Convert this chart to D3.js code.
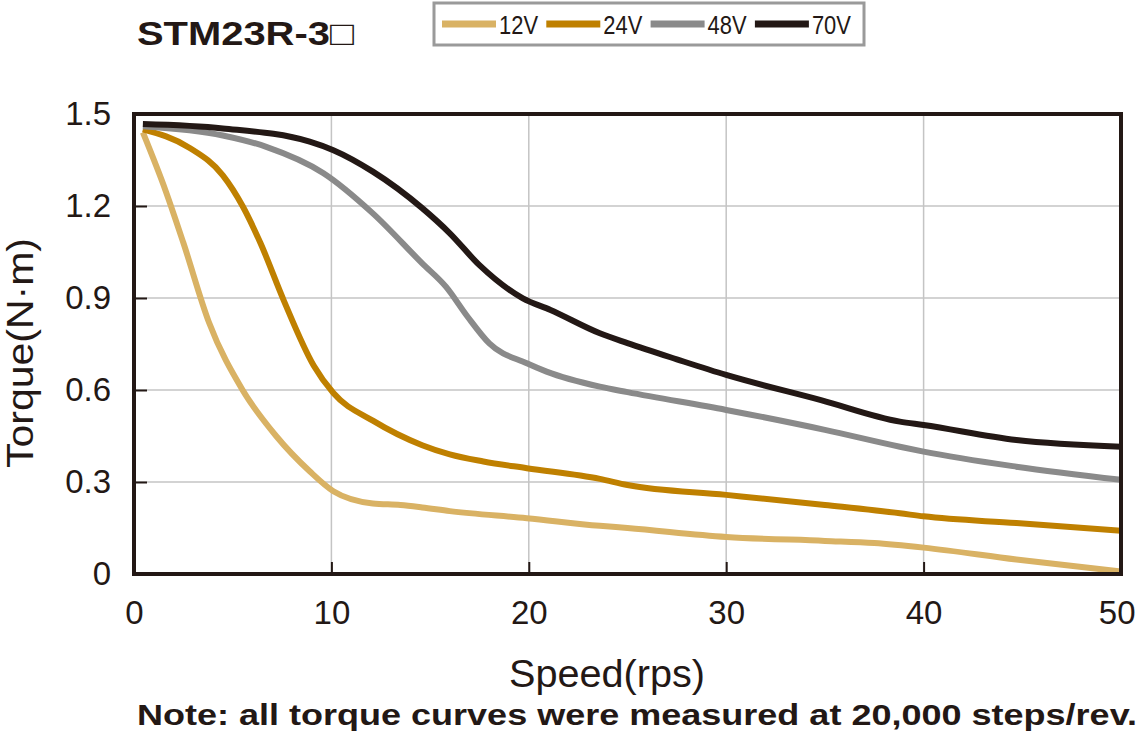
<!DOCTYPE html>
<html>
<head>
<meta charset="utf-8">
<script src="https://cdn.jsdelivr.net/npm/d3@7"></script>
<style>
  body { margin: 0; background: #fff; }
  text { font-family: "Liberation Sans", Arial, sans-serif; fill: #231815; }
</style>
</head>
<body>
<svg id="chart"></svg>
<script>
// speed (rps) / torque (N·m)
const series = ["12V", "24V", "48V", "70V"];
const colors = ["#d9b264", "#bf8000", "#8a8a8a", "#231815"];

const v12 = [[0.45,1.44],[1.6,1.25],[2.5,1.08],[3.8,0.82],[5.5,0.60],[7.2,0.45],[8.9,0.335],[10.1,0.27],
  [12.1,0.23],[13.5,0.225],[14.6,0.217],[16,0.205],[19.9,0.182],[23.6,0.157],[25,0.15],[30,0.121],
  [35,0.108],[37.5,0.101],[40,0.086],[44.7,0.047],[50,0.008]];
const v24 = [[0.45,1.45],[2.8,1.39],[4.5,1.30],[5.5,1.20],[6.4,1.08],[7.6,0.89],[9.1,0.68],[10.1,0.59],
  [12.1,0.50],[14.6,0.42],[16,0.39],[17.7,0.367],[19.9,0.345],[23.6,0.31],[25,0.29],[30,0.258],
  [35,0.225],[38.8,0.198],[40,0.188],[44.7,0.166],[50,0.141]];
const v48 = [[0.45,1.46],[4.5,1.43],[6.7,1.393],[9.6,1.307],[12.1,1.176],[14.6,1.013],[15.8,0.937],
  [16.9,0.839],[18,0.752],[19.9,0.687],[20.9,0.66],[23.6,0.611],[25,0.593],[30,0.535],[35,0.47],
  [38.8,0.415],[40,0.399],[44.7,0.35],[50,0.307]];
const v70 = [[0.45,1.467],[4.5,1.453],[8.9,1.41],[10.1,1.382],[12.1,1.312],[14.6,1.193],[16,1.111],
  [17.5,1.007],[19.7,0.899],[21.1,0.861],[23.6,0.785],[25,0.753],[27.5,0.70],[30,0.649],[34.8,0.567],
  [38.8,0.497],[40,0.486],[44.7,0.437],[50,0.415]];
const curves = [v12, v24, v48, v70];

const xTicks = [0, 10, 20, 30, 40, 50];
const yTicks = [0, 0.3, 0.6, 0.9, 1.2, 1.5];

const W = 1138, H = 734;
const plot = { left: 134, right: 1121, top: 114, bottom: 574 };

const svg = d3.select("#chart").attr("width", W).attr("height", H);

const x = d3.scaleLinear().domain([0, 50]).range([plot.left, plot.right]);
const y = d3.scaleLinear().domain([0, 1.5]).range([plot.bottom, plot.top]);

// grid
svg.append("g").selectAll("line")
  .data(xTicks.slice(1, -1))
  .join("line")
  .attr("x1", d => x(d)).attr("x2", d => x(d))
  .attr("y1", plot.top).attr("y2", plot.bottom)
  .attr("stroke", "#c4c4c4").attr("stroke-width", 1.5);

svg.append("g").selectAll("line")
  .data(yTicks.slice(1, -1))
  .join("line")
  .attr("x1", plot.left).attr("x2", plot.right)
  .attr("y1", d => y(d)).attr("y2", d => y(d))
  .attr("stroke", "#c4c4c4").attr("stroke-width", 1.5);

// axes with inward ticks
const xAxis = svg.append("g")
  .attr("transform", `translate(0,${plot.bottom})`)
  .call(d3.axisBottom(x).tickValues(xTicks).tickFormat(d3.format("d")).tickSize(-12).tickPadding(27));
const yAxis = svg.append("g")
  .attr("transform", `translate(${plot.left},0)`)
  .call(d3.axisLeft(y).tickValues(yTicks).tickFormat(d => d === 0 ? "0" : d3.format(".1f")(d)).tickSize(-13).tickPadding(23));

[xAxis, yAxis].forEach(g => {
  g.select(".domain").remove();
  g.selectAll(".tick line").attr("stroke", "#231815").attr("stroke-width", 2);
  g.selectAll(".tick text").attr("font-size", 33).attr("fill", "#231815");
});
xAxis.selectAll(".tick text").attr("dy", "0.71em");
xAxis.selectAll(".tick text").filter(d => d === 50).attr("text-anchor", "end").attr("dx", 14);

// curves
const line = d3.line().x(d => x(d[0])).y(d => y(d[1])).curve(d3.curveMonotoneX);
svg.append("g").selectAll("path")
  .data(curves)
  .join("path")
  .attr("d", line)
  .attr("fill", "none")
  .attr("stroke", (d, i) => colors[i])
  .attr("stroke-width", 6)
  .attr("stroke-linejoin", "round");

// frame
svg.append("rect")
  .attr("x", plot.left).attr("y", plot.top)
  .attr("width", plot.right - plot.left).attr("height", plot.bottom - plot.top)
  .attr("fill", "none").attr("stroke", "#231815").attr("stroke-width", 4);

// axis titles
svg.append("text")
  .attr("transform", "translate(33,353) rotate(-90)")
  .attr("text-anchor", "middle")
  .attr("font-size", 37)
  .attr("textLength", 230).attr("lengthAdjust", "spacingAndGlyphs")
  .text("Torque(N·m)");

svg.append("text")
  .attr("x", 607).attr("y", 687)
  .attr("text-anchor", "middle")
  .attr("font-size", 38)
  .attr("textLength", 196).attr("lengthAdjust", "spacingAndGlyphs")
  .text("Speed(rps)");

// title
svg.append("text")
  .attr("x", 137).attr("y", 45)
  .attr("font-size", 34).attr("font-weight", "bold")
  .attr("textLength", 217).attr("lengthAdjust", "spacingAndGlyphs")
  .text("STM23R-3□");

// note
svg.append("text")
  .attr("x", 137).attr("y", 725)
  .attr("font-size", 30).attr("font-weight", "bold")
  .attr("textLength", 1000).attr("lengthAdjust", "spacingAndGlyphs")
  .text("Note: all torque curves were measured at 20,000 steps/rev.");

// legend
const legend = svg.append("g");
legend.append("rect")
  .attr("x", 434).attr("y", 3).attr("width", 430).attr("height", 42)
  .attr("fill", "#fff").attr("stroke", "#9a9a9a").attr("stroke-width", 3);

const item = legend.selectAll("g.item")
  .data(series)
  .join("g")
  .attr("class", "item")
  .attr("transform", (d, i) => `translate(${442 + i * 104.3},24)`);
item.append("line")
  .attr("x1", 0).attr("x2", 54)
  .attr("stroke", (d, i) => colors[i]).attr("stroke-width", 7);
item.append("text")
  .attr("x", 57).attr("y", 9.5)
  .attr("font-size", 25)
  .attr("textLength", 39).attr("lengthAdjust", "spacingAndGlyphs")
  .text(d => d);
</script>
</body>
</html>
